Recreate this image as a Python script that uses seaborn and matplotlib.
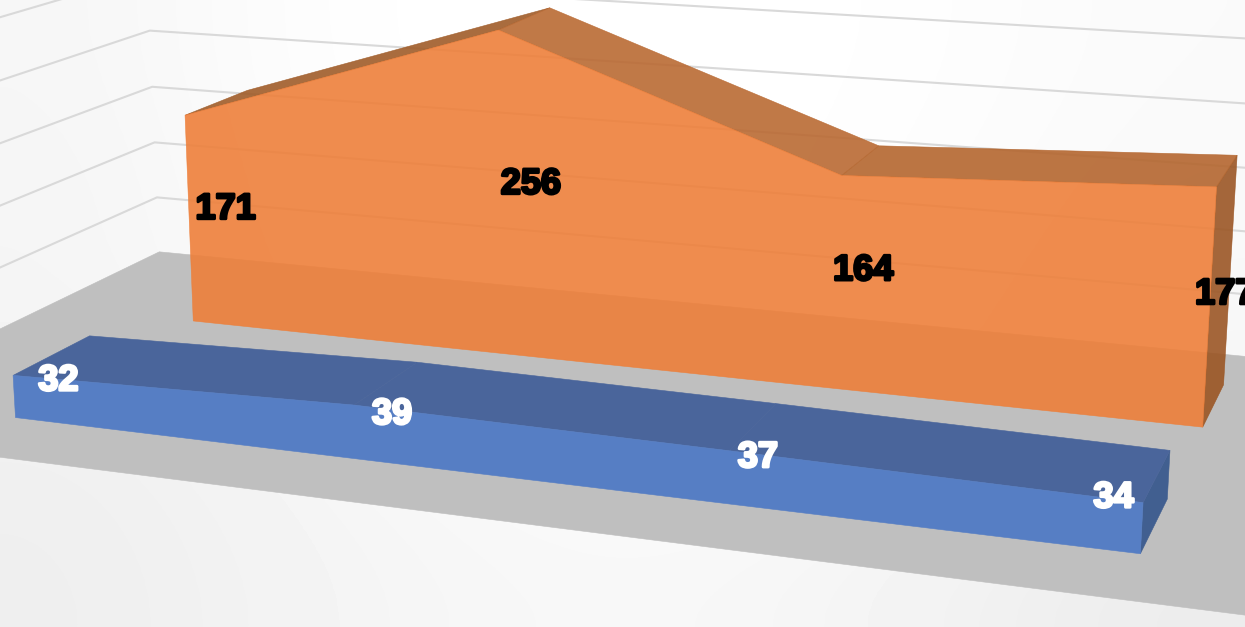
import numpy as np
import matplotlib
matplotlib.use("Agg")
import matplotlib.pyplot as plt
import matplotlib.patheffects as pe
import seaborn as sns

# dados do grafico
posicoes = [0, 1, 2, 3]
serie_azul = [32, 39, 37, 34]
serie_laranja = [171, 256, 164, 177]
grades = [50, 100, 150, 200, 250, 300]

# profundidade de cada serie e limites do "chao"
prof_azul = 0.0
prof_laranja = 2.5
espessura = 1.0
x_min, x_max = -0.5, 3.5
y_min, y_max = -0.75, 4.25

# camera ajustada na imagem (x, profundidade, valor/100, 1) -> pixel
camera = np.array([
    [3.23895903e+02, 8.05865234e+01, -7.74700560e+00, 1.55052070e+01],
    [2.06063960e+01, -2.28877896e+01, -1.36529963e+02, 4.17544937e+02],
    [-4.47760889e-02, 4.90567777e-02, -1.27072242e-02, 1.00000000e+00],
])


def proj(x, y, z):
    x, y, z = np.broadcast_arrays(x, y, z)
    pts = np.column_stack([x, y, z / 100.0, np.ones(x.size)])
    q = (camera @ pts.T).T
    return q[:, 0] / q[:, 2], q[:, 1] / q[:, 2]


def face(ax, x, y, z, cor, alpha=1.0, zorder=3):
    u, v = proj(np.array(x, float), np.array(y, float), np.array(z, float))
    ax.fill(u, v, facecolor=cor, edgecolor=cor, linewidth=0.4, alpha=alpha, zorder=zorder)


def serie(ax, vals, prof, frente, topos, lado, alpha, zorder):
    xs = np.array(posicoes, float)
    vals = np.array(vals, float)
    # lado direito
    face(ax, [xs[-1]] * 4, [prof, prof + espessura, prof + espessura, prof],
         [vals[-1], vals[-1], 0, 0], lado, alpha, zorder)
    # faces de cima
    for i in range(len(xs) - 1):
        face(ax, [xs[i], xs[i + 1], xs[i + 1], xs[i]],
             [prof, prof, prof + espessura, prof + espessura],
             [vals[i], vals[i + 1], vals[i + 1], vals[i]], topos[i], alpha, zorder)
    # frente
    fx = list(xs) + [xs[-1], xs[0]]
    fz = list(vals) + [0, 0]
    face(ax, fx, [prof] * len(fx), fz, frente, alpha, zorder + 0.5)


sns.set_theme(style="white")
plt.rcParams["font.family"] = ["Liberation Sans", "DejaVu Sans"]

fig = plt.figure(figsize=(12.45, 6.27), dpi=100)
ax = fig.add_axes([0, 0, 1, 1])

# fundo em degrade
fundo = np.array([
    [0.965, 0.995, 1.0, 1.0, 0.995, 0.98],
    [0.96, 0.99, 1.0, 1.0, 0.99, 0.975],
    [0.96, 0.985, 1.0, 1.0, 0.985, 0.97],
    [0.94, 0.965, 0.985, 0.99, 0.98, 0.96],
    [0.935, 0.955, 0.97, 0.97, 0.95, 0.925],
])
ax.imshow(fundo, cmap="gray", vmin=0, vmax=1, extent=(0, 1245, 627, 0),
          interpolation="bicubic", aspect="auto", zorder=0)

# linhas de grade nas paredes
for g in grades:
    u, v = proj(np.array([x_min, x_min, x_max]), np.array([y_min, y_max, y_max]),
                np.array([g, g, g], float))
    sns.lineplot(x=u, y=v, sort=False, estimator=None, color="#D9D9D9",
                 linewidth=1.5, ax=ax, zorder=1)

# chao
face(ax, [x_min, x_max, x_max, x_min], [y_min, y_min, y_max, y_max], [0, 0, 0, 0],
     "#BFBFBF", 1.0, 2)

serie(ax, serie_laranja, prof_laranja, "#EE7E38",
      ["#9F5A26", "#B96830", "#B3642C"], "#9A5422", 0.89, 3)
serie(ax, serie_azul, prof_azul, "#567EC4",
      ["#4A659B", "#4A659B", "#4A659B"], "#415F90", 1.0, 5)

# rotulos no meio da serie
for vals, prof, cor in [(serie_laranja, prof_laranja, "black"), (serie_azul, prof_azul, "white")]:
    for x, val in zip(posicoes, vals):
        u, v = proj(np.array([x], float), np.array([prof + espessura / 2]), np.array([val / 2.0]))
        du = 5
        dv = 5
        # o ultimo rotulo azul foi arrastado para dentro da serie
        if cor == "white" and x == posicoes[-1]:
            du = -42
            dv = -3
        t = ax.text(u[0] + du, v[0] + dv, str(val), color=cor, fontsize=26, fontweight="bold",
                    ha="center", va="center", zorder=7, clip_on=False)
        t.set_path_effects([pe.withStroke(linewidth=2, foreground=cor)])

ax.set_xlim(0, 1245)
ax.set_ylim(627, 0)
ax.set_axis_off()
fig.savefig("out.png", dpi=100)
